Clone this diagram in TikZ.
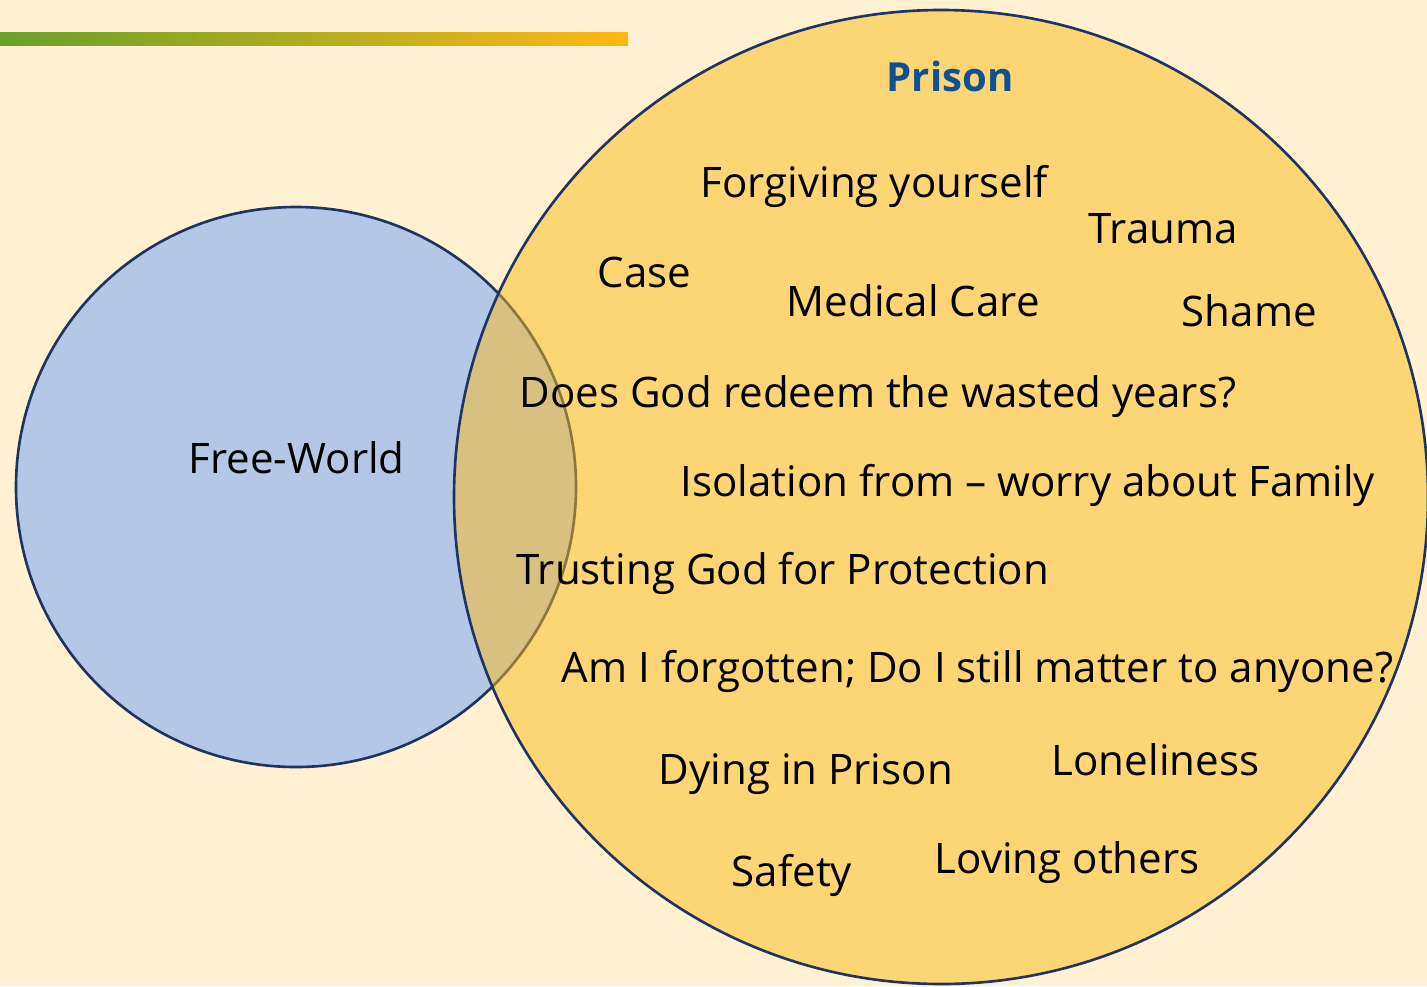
\documentclass[tikz,border=0pt]{standalone}
\usepackage{fontspec}
\setmainfont{Open Sans}
\usepackage{tikz}

\definecolor{paper}{RGB}{255,241,210}
\definecolor{freeblue}{RGB}{180,199,231}
\definecolor{prisongold}{RGB}{251,186,26}
\definecolor{rim}{RGB}{31,52,96}
\definecolor{titleblue}{RGB}{14,80,145}
\definecolor{barleft}{RGB}{105,160,45}
\definecolor{barright}{RGB}{255,184,20}

\tikzset{
  item/.style={anchor=base west, inner sep=0pt, font=\fontsize{11.97}{14}\selectfont},
}

\begin{document}
\begin{tikzpicture}
    \fill[paper] (0,0) rectangle (14.27,9.86);
    \useasboundingbox (0,0) rectangle (14.27,9.86);
    \shade[left color=barleft, right color=barright] (0,9.41) rectangle (6.28,9.54);

    % the two sets
    \filldraw[fill=freeblue, draw=rim, line width=0.75pt] (2.96,4.99) circle (2.80);
    \filldraw[fill=prisongold, fill opacity=0.5, draw=rim, line width=0.75pt] (9.41,4.89) circle (4.87);

    \node[item, font=\fontsize{11.4}{14}\selectfont\bfseries, text=titleblue] (prison) at (8.86,8.95) {Prison};
    \node[item] (free) at (1.88,5.13) {Free-World};

    \node[item] (forgive) at (7.00,7.89) {Forgiving yourself};
    \node[item] (trauma) at (10.88,7.43) {Trauma};
    \node[item] (case) at (5.97,6.99) {Case};
    \node[item] (medical) at (7.86,6.70) {Medical Care};
    \node[item] (shame) at (11.81,6.60) {Shame};
    \node[item] (redeem) at (5.19,5.79) {Does God redeem the wasted years?};
    \node[item] (family) at (6.80,4.90) {Isolation from -- worry about Family};
    \node[item] (trust) at (5.16,4.02) {Trusting God for Protection};
    \node[item] (matter) at (5.61,3.04) {Am I forgotten; Do I still matter to anyone?};
    \node[item] (dying) at (6.58,2.02) {Dying in Prison};
    \node[item] (lonely) at (10.51,2.11) {Loneliness};
    \node[item] (safety) at (7.31,1.00) {Safety};
    \node[item] (loving) at (9.34,1.13) {Loving others};
  \end{tikzpicture}
\end{document}
